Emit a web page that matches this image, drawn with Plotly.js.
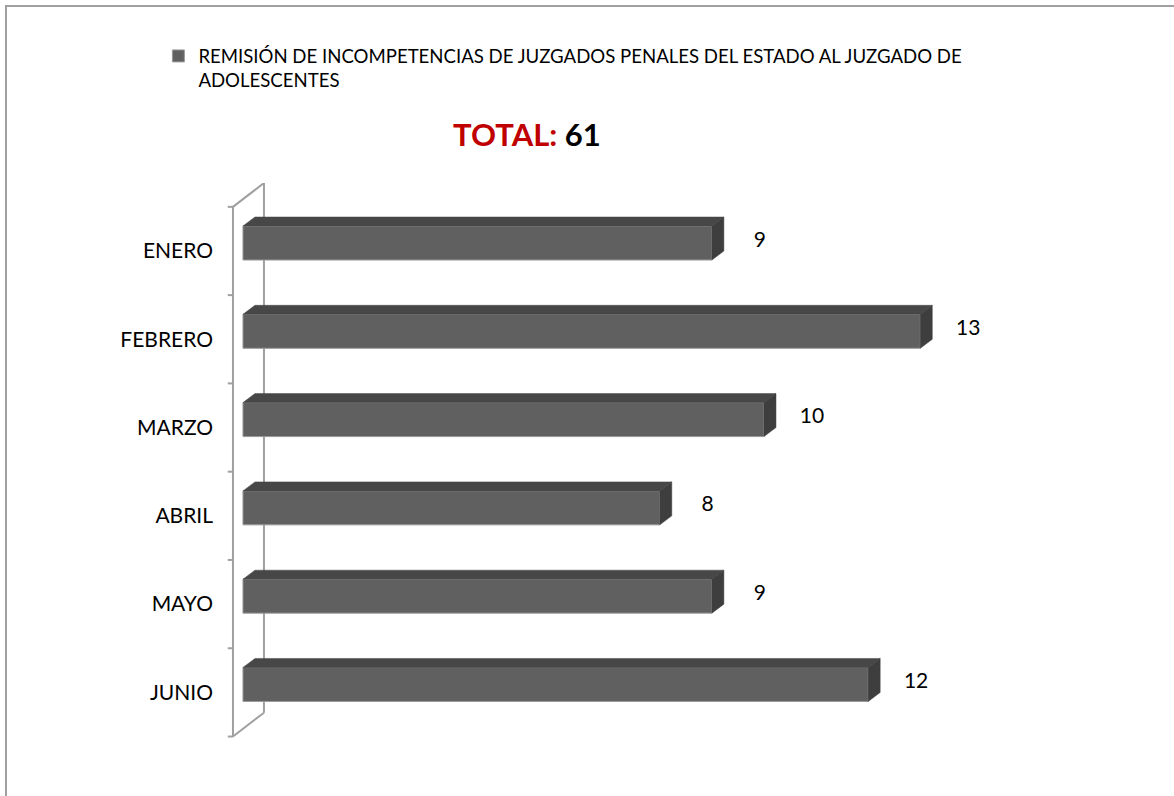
<!DOCTYPE html>
<html>
<head>
<meta charset="utf-8">
<script src="https://cdn.plot.ly/plotly-3.0.1.min.js"></script>
<style>
  html, body { margin: 0; padding: 0; background: #fff; }
  #frame { position: absolute; left: 5px; top: 5px; width: 1180px; height: 800px;
           border-left: 2px solid #a0a0a0; border-top: 2px solid #a0a0a0; pointer-events: none; }
  #chart { position: absolute; left: 0; top: 0; width: 1174px; height: 796px; }
</style>
</head>
<body>
<div id="chart"></div>
<div id="frame"></div>
<script>
// ---- data ----
const categories = ["ENERO", "FEBRERO", "MARZO", "ABRIL", "MAYO", "JUNIO"];
const values = [9, 13, 10, 8, 9, 12];
const seriesName = "REMISIÓN DE INCOMPETENCIAS DE JUZGADOS PENALES DEL ESTADO AL JUZGADO DE<br>ADOLESCENTES";
const totalLabel = "TOTAL:";
const totalValue = 61;

// ---- 3D look constants (in axis units) ----
const barWidth = 0.385;
const depthX = 0.23, depthY = -0.102;      // bar back plane offset
const frontWall = {dx: -0.192, dy: 0.09};  // front wall plane offset
const backWall = {dx: 0.403, dy: -0.18};   // back wall plane offset
const font = "Lato, 'Open Sans', sans-serif";

const idx = categories.map((c, i) => i);
const n = categories.length;

const traces = [];
traces.push({
  type: "bar", orientation: "h", x: values, y: idx, width: barWidth,
  name: seriesName,
  marker: {color: "#606060", line: {color: "#9a9a9a", width: 1}},
  hoverinfo: "x+name"
});
// top & side faces
values.forEach((v, i) => {
  const t = i - barWidth / 2, b = i + barWidth / 2;
  traces.push({
    type: "scatter", mode: "lines", fill: "toself", fillcolor: "#474747",
    line: {color: "#474747", width: 0.5}, showlegend: false, hoverinfo: "skip",
    x: [0, v, v + depthX, depthX, 0], y: [t, t, t + depthY, t + depthY, t]
  });
  traces.push({
    type: "scatter", mode: "lines", fill: "toself", fillcolor: "#3e3e3e",
    line: {color: "#3e3e3e", width: 0.5}, showlegend: false, hoverinfo: "skip",
    x: [v, v + depthX, v + depthX, v, v], y: [t, t + depthY, b + depthY, b, t]
  });
});
// value labels
traces.push({
  type: "scatter", mode: "text", x: values.map(v => v + 0.92), y: idx.map(i => i - 0.02),
  text: values.map(String), textfont: {family: font, size: 21, color: "#000"},
  showlegend: false, hoverinfo: "skip", cliponaxis: false
});

// wall lines
const shapes = [];
const wl = {color: "#a0a0a0", width: 2};
const fTop = -0.5 + frontWall.dy, fBot = n - 0.5 + frontWall.dy;
const bTop = -0.5 + backWall.dy, bBot = n - 0.5 + backWall.dy;
shapes.push({type: "line", layer: "below", x0: frontWall.dx, x1: frontWall.dx, y0: fTop, y1: fBot, line: wl});
shapes.push({type: "line", layer: "below", x0: backWall.dx, x1: backWall.dx, y0: bTop, y1: bBot, line: wl});
shapes.push({type: "line", layer: "below", x0: frontWall.dx, x1: backWall.dx, y0: fTop, y1: bTop, line: wl});
shapes.push({type: "line", layer: "below", x0: frontWall.dx, x1: backWall.dx, y0: fBot, y1: bBot, line: wl});
for (let k = 0; k <= n; k++) {
  const y = k - 0.5 + frontWall.dy;
  shapes.push({type: "line", layer: "below", x0: frontWall.dx - 0.1, x1: frontWall.dx, y0: y, y1: y, line: wl});
}

const layout = {
  width: 1174, height: 796,
  margin: {l: 220, r: 174, t: 183, b: 57},
  paper_bgcolor: "#fff", plot_bgcolor: "rgba(0,0,0,0)",
  font: {family: font, color: "#000"},
  showlegend: true,
  legend: {x: -0.079, xanchor: "left", y: 1.262, yanchor: "top", valign: "top",
           font: {family: font, size: 18.6, color: "#000"}, bgcolor: "rgba(0,0,0,0)"},
  title: {
    text: "<span style='color:#c00000'>" + totalLabel + "</span> " + totalValue,
    font: {family: font, size: 31, color: "#000", weight: "bold"},
    x: 0.3935, xref: "paper", xanchor: "center", y: 0.83, yref: "container", yanchor: "middle"
  },
  xaxis: {range: [-0.441, 14.53], showgrid: false, zeroline: false, showticklabels: false,
          showline: false, ticks: "", fixedrange: true},
  yaxis: {range: [5.618, -0.68], showgrid: false, zeroline: false, showline: false, ticks: "",
          tickvals: idx.map(i => i + frontWall.dy), ticktext: categories,
          ticklabelstandoff: 6, tickfont: {family: font, size: 21, color: "#000"}, fixedrange: true},
  shapes: shapes,
  bargap: 0
};

Plotly.newPlot("chart", traces, layout, {displayModeBar: false, staticPlot: true});
</script>
</body>
</html>
